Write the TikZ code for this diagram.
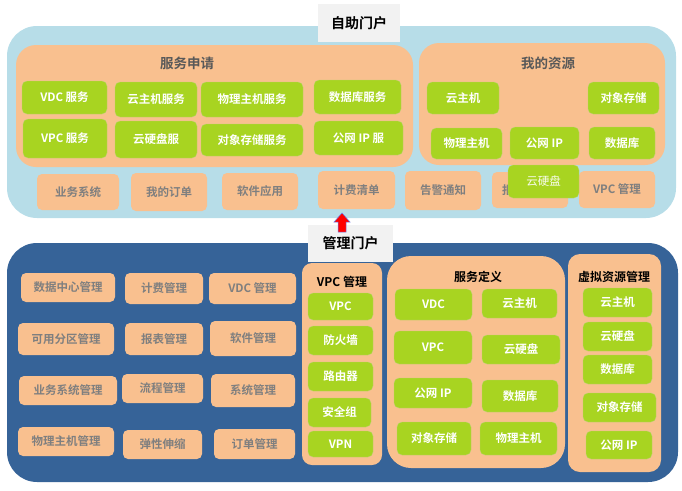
\documentclass[tikz,border=0pt]{standalone}
\usepackage{fontspec}
\setmainfont{Noto Sans CJK SC}[BoldFont={Noto Sans CJK SC Bold}]
\definecolor{lblue}{HTML}{B7DDE8}
\definecolor{dblue}{HTML}{366398}
\definecolor{peach}{HTML}{F9C08F}
\definecolor{lime}{HTML}{A8D421}
\definecolor{txtgray}{HTML}{7F7F7F}
\definecolor{ttlgray}{HTML}{595959}
\definecolor{lblbg}{HTML}{F2F2F2}
\newcommand\bx[7]{%
  \pgfmathsetmacro\bxw{#5-#3}\pgfmathsetmacro\bxh{#6-#4}%
  \pgfmathsetmacro\bxx{(#3+#5)/2}\pgfmathsetmacro\bxy{(#4+#6)/2}%
  \node[#1, minimum width=\bxw pt, minimum height=\bxh pt] (#2) at (\bxx,\bxy) {#7};}
\tikzset{
  x=1pt, y=-1pt,
  base/.style={inner sep=0pt, outer sep=0pt, align=center},
  gbox/.style={base, fill=lime, draw=lime!85!black!60, line width=0.3pt, rounded corners=5pt, text=white, font=\bfseries\fontsize{11.5}{13}\selectfont},
  obox/.style={base, fill=peach, rounded corners=5pt, text=txtgray, font=\bfseries\fontsize{11.5}{13}\selectfont},
  panel/.style={base, fill=peach, rounded corners=20pt},
  ptitle/.style={font=\bfseries\fontsize{13.5}{15}\selectfont, text=ttlgray},
  btitle/.style={font=\bfseries\fontsize{12}{14}\selectfont, text=black},
  lbl/.style={base, fill=lblbg, text=black, font=\bfseries\fontsize{14}{16}\selectfont},
}
\begin{document}
\begin{tikzpicture}
\useasboundingbox (0,0) rectangle (682,490);
% ---------- top: self-service portal ----------
\bx{base, fill=lblue, rounded corners=30pt}{selfportal}{7}{26}{676}{218}{}
\bx{panel}{apply}{16}{45}{413}{167}{}
\node[ptitle] (applyT) at (187,63) {服务申请};
\bx{gbox}{a1}{22}{81}{107}{114}{VDC 服务}
\bx{gbox}{a2}{23}{119}{107}{158}{VPC 服务}
\bx{gbox}{a3}{115}{82}{197}{117}{云主机服务}
\bx{gbox}{a4}{115}{121}{197}{158}{云硬盘服}
\bx{gbox}{a5}{201}{82}{303}{117}{物理主机服务}
\bx{gbox}{a6}{201}{124}{303}{156}{对象存储服务}
\bx{gbox}{a7}{314}{80}{401}{114}{数据库服务}
\bx{gbox}{a8}{314}{121}{403}{155}{公网 IP 服}
\bx{panel}{mine}{419}{43}{665}{165}{}
\node[ptitle] (mineT) at (548,63) {我的资源};
\bx{gbox}{m1}{427}{82}{499}{114}{云主机}
\bx{gbox}{m2}{588}{82}{659}{114}{对象存储}
\bx{gbox}{m3}{431}{128}{502}{159}{物理主机}
\bx{gbox}{m4}{510}{127}{579}{159}{公网 IP}
\bx{gbox}{m5}{589}{127}{655}{159}{数据库}
\bx{obox}{b1}{37}{174}{119}{210}{业务系统}
\bx{obox}{b2}{131}{173}{207}{211}{我的订单}
\bx{obox}{b3}{222}{173}{298}{210}{软件应用}
\bx{obox}{b4}{318}{171}{395}{209}{计费清单}
\bx{obox}{b5}{405}{171}{481}{210}{告警通知}
\bx{obox}{b6}{492}{172}{568}{208}{}
\node[anchor=west, text=txtgray, font=\bfseries\fontsize{11.5}{13}\selectfont, inner sep=0pt] (b6t) at (502,190) {报表统计};
\bx{obox}{b7}{579}{171}{655}{208}{VPC 管理}
\bx{gbox, font=\fontsize{11.5}{13}\selectfont, text=white!92!lime}{m6}{508}{165}{579}{198}{云硬盘}
\bx{lbl}{selfT}{318}{4}{400}{42}{自助门户}
% ---------- bottom: management portal ----------
\bx{base, fill=dblue, rounded corners=30pt}{mgmt}{7}{243}{678}{482}{}
\bx{obox}{c1}{21}{273}{115}{302}{数据中心管理}
\bx{obox}{c2}{125}{273}{203}{304}{计费管理}
\bx{obox}{c3}{209}{273}{296}{304}{VDC 管理}
\bx{obox}{c4}{18}{323}{114}{355}{可用分区管理}
\bx{obox}{c5}{125}{323}{203}{355}{报表管理}
\bx{obox}{c6}{210}{321}{296}{356}{软件管理}
\bx{obox}{c7}{19}{376}{117}{405}{业务系统管理}
\bx{obox}{c8}{122}{374}{203}{403}{流程管理}
\bx{obox}{c9}{211}{374}{295}{407}{系统管理}
\bx{obox}{c10}{18}{427}{114}{456}{物理主机管理}
\bx{obox}{c11}{123}{430}{202}{459}{弹性伸缩}
\bx{obox}{c12}{214}{429}{295}{459}{订单管理}
% VPC management
\bx{panel, rounded corners=10pt}{vpc}{302}{263}{382}{465}{}
\node[btitle] (vpcT) at (342,282) {VPC 管理};
\bx{gbox}{v1}{308}{293}{373}{320}{VPC}
\bx{gbox}{v2}{308}{326}{373}{355}{防火墙}
\bx{gbox}{v3}{308}{362}{373}{391}{路由器}
\bx{gbox}{v4}{308}{398}{371}{427}{安全组}
\bx{gbox}{v5}{308}{431}{373}{457}{VPN}
% service definition
\bx{panel, rounded corners=24pt}{sdef}{387}{256}{565}{468}{}
\node[btitle] (sdefT) at (478,277) {服务定义};
\bx{gbox}{s1}{395}{289}{472}{320}{VDC}
\bx{gbox}{s2}{482}{289}{557}{318}{云主机}
\bx{gbox}{s3}{394}{331}{472}{364}{VPC}
\bx{gbox}{s4}{482}{335}{560}{364}{云硬盘}
\bx{gbox}{s5}{394}{378}{472}{408}{公网 IP}
\bx{gbox}{s6}{482}{380}{558}{412}{数据库}
\bx{gbox}{s7}{397}{422}{471}{455}{对象存储}
\bx{gbox}{s8}{480}{422}{557}{455}{物理主机}
% virtual resources
\bx{panel, rounded corners=12pt}{vres}{568}{254}{661}{472}{}
\node[btitle] (vresT) at (614,277) {虚拟资源管理};
\bx{gbox}{r1}{583}{288}{652}{317}{云主机}
\bx{gbox}{r2}{583}{322}{652}{351}{云硬盘}
\bx{gbox}{r3}{583}{355}{652}{384}{数据库}
\bx{gbox}{r4}{583}{393}{656}{422}{对象存储}
\bx{gbox}{r5}{586}{431}{652}{459}{公网 IP}
\bx{lbl}{mgmtT}{308}{225}{393}{262}{管理门户}
% red block arrow from management label up to billing list
\draw[fill=red, draw=lblue!60!blue, line width=0.5pt]
  (342,213) -- (350,222) -- (346,222) -- (346,232) -- (338,232) -- (338,222) -- (334,222) -- cycle;
\end{tikzpicture}
\end{document}
